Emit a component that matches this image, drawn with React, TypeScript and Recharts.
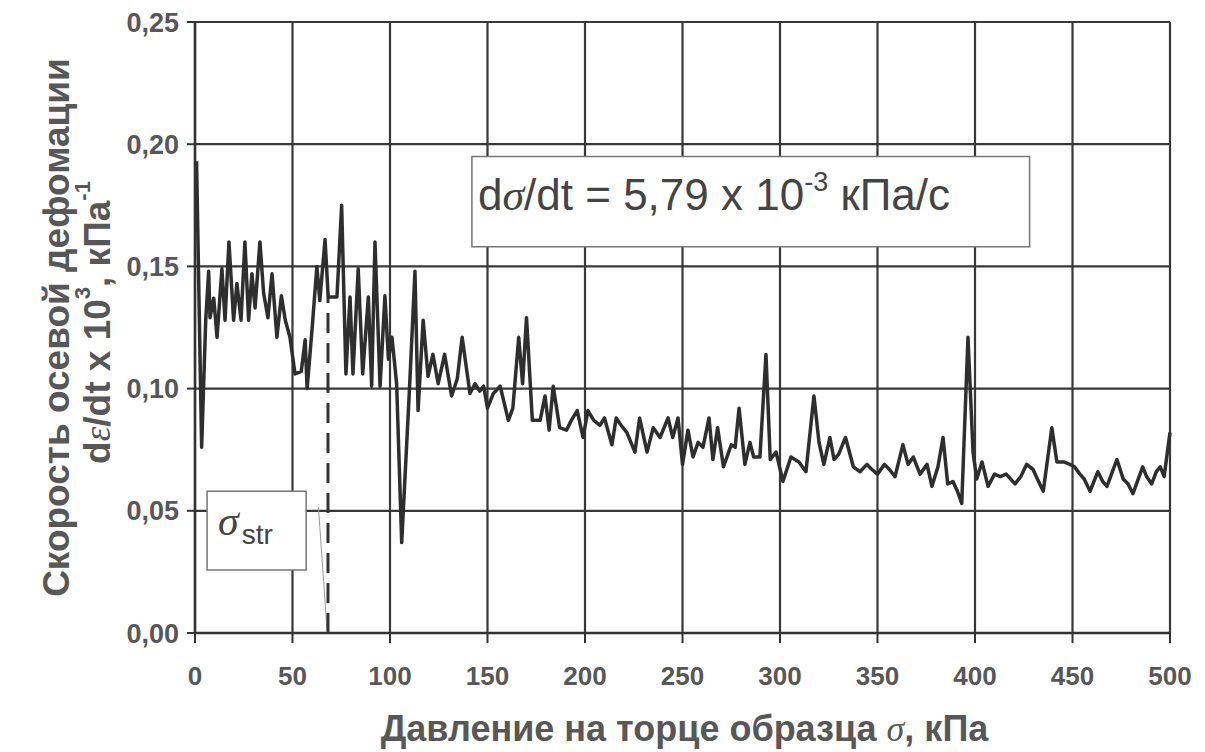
import React from 'react';
import {
  LineChart,
  Line,
  XAxis,
  YAxis,
  CartesianGrid,
  ReferenceLine,
  ReferenceArea,
  Label,
} from 'recharts';

// Pressure on the sample end, kPa
const pressureKPa = [
  0.8, 3.4, 5.5, 7.0, 7.7, 9.6, 11.3, 13.8, 15.4, 17.4,
  19.8, 21.5, 23.6, 25.6, 27.5, 29.2, 30.8, 33.3, 35.2, 37.4,
  39.5, 42.0, 44.3, 46.3, 48.7, 51.3, 54.5, 56.5, 57.5, 60.0,
  62.5, 64.0, 66.7, 68.3, 72.8, 75.2, 77.4, 79.5, 81.0, 83.7,
  86.0, 88.9, 90.6, 92.3, 94.9, 97.4, 99.2, 101.0, 103.4, 106.0,
  110.0, 112.8, 114.4, 117.0, 119.5, 122.0, 124.7, 128.0, 131.6, 134.5,
  137.0, 141.0, 143.6, 146.0, 148.0, 150.0, 153.0, 156.5, 160.7, 163.0,
  166.0, 168.0, 170.0, 173.0, 177.0, 179.5, 181.6, 183.7, 187.0, 190.5,
  193.0, 196.0, 199.0, 201.5, 204.5, 207.7, 210.0, 213.8, 216.0, 218.5,
  221.5, 225.6, 228.0, 231.8, 235.0, 238.5, 242.6, 245.0, 247.7, 250.0,
  252.8, 255.4, 258.0, 260.5, 263.6, 265.6, 268.0, 271.0, 275.0, 277.0,
  279.0, 282.0, 284.6, 286.5, 289.7, 292.8, 295.0, 298.0, 301.5, 305.6,
  309.7, 313.3, 317.4, 320.0, 322.5, 325.6, 327.7, 330.0, 333.6, 337.6,
  341.0, 344.6, 347.0, 350.0, 353.6, 356.0, 359.0, 363.0, 365.7, 368.4,
  371.8, 375.4, 377.9, 381.0, 383.6, 386.0, 388.7, 391.0, 393.2, 396.4,
  399.0, 400.9, 403.6, 406.7, 410.0, 413.0, 416.0, 420.5, 423.5, 426.5,
  429.7, 432.0, 435.0, 439.4, 442.0, 445.5, 448.7, 451.0, 453.8, 456.0,
  459.0, 463.0, 465.5, 467.7, 470.0, 472.8, 476.0, 478.5, 481.0, 486.0,
  488.0, 490.6, 493.0, 495.0, 497.0, 500.0,
];

// Axial strain rate dε/dt x 10^3, 1/kPa
const strainRate = [
  0.193, 0.076, 0.128, 0.148, 0.129, 0.137, 0.121, 0.149, 0.128, 0.160,
  0.128, 0.143, 0.128, 0.160, 0.128, 0.147, 0.133, 0.160, 0.139, 0.129,
  0.147, 0.121, 0.138, 0.128, 0.121, 0.106, 0.107, 0.120, 0.100, 0.124,
  0.150, 0.136, 0.161, 0.1375, 0.1375, 0.175, 0.106, 0.1375, 0.106, 0.149,
  0.106, 0.1375, 0.101, 0.160, 0.101, 0.138, 0.112, 0.121, 0.102, 0.037,
  0.100, 0.148, 0.091, 0.128, 0.105, 0.114, 0.102, 0.114, 0.097, 0.104,
  0.121, 0.098, 0.102, 0.099, 0.101, 0.092, 0.098, 0.101, 0.087, 0.092,
  0.121, 0.102, 0.129, 0.087, 0.087, 0.097, 0.083, 0.101, 0.084, 0.083,
  0.087, 0.091, 0.080, 0.091, 0.087, 0.085, 0.088, 0.077, 0.088, 0.085,
  0.082, 0.074, 0.088, 0.074, 0.084, 0.080, 0.088, 0.080, 0.088, 0.069,
  0.083, 0.072, 0.078, 0.076, 0.088, 0.071, 0.084, 0.068, 0.077, 0.076,
  0.092, 0.069, 0.078, 0.072, 0.072, 0.114, 0.071, 0.074, 0.062, 0.072,
  0.070, 0.066, 0.097, 0.078, 0.069, 0.080, 0.071, 0.073, 0.080, 0.068,
  0.066, 0.069, 0.067, 0.065, 0.069, 0.067, 0.064, 0.077, 0.069, 0.072,
  0.065, 0.069, 0.060, 0.068, 0.080, 0.061, 0.062, 0.058, 0.053, 0.121,
  0.074, 0.063, 0.070, 0.060, 0.065, 0.064, 0.065, 0.061, 0.064, 0.069,
  0.067, 0.063, 0.058, 0.084, 0.070, 0.070, 0.069, 0.068, 0.065, 0.063,
  0.058, 0.066, 0.062, 0.060, 0.065, 0.071, 0.063, 0.061, 0.057, 0.068,
  0.064, 0.061, 0.066, 0.068, 0.064, 0.082,
];

const xTicks = [0, 50, 100, 150, 200, 250, 300, 350, 400, 450, 500];
const yTicks = [0, 0.05, 0.1, 0.15, 0.2, 0.25];

// σ_str marker (kPa) and the rate level where the dashed line ends
const sigmaStr = 68.2;
const sigmaStrRate = 0.1375;

const data = pressureKPa.map((p, i) => ({ p, r: strainRate[i] }));

const SANS = 'Liberation Sans, Arial, sans-serif';
const SERIF = 'Liberation Serif, Times New Roman, serif';
const TEXT = '#575757';
const INK = '#333333';

const fmtY = (v: number) => v.toFixed(2).replace('.', ',');

const YAxisTitle = (props: any) => {
  const vb = props.viewBox || { x: 0, y: 22, width: 195, height: 611 };
  const cy = vb.y + vb.height / 2;
  const x1 = 56;
  const x2 = 97;
  const cy2 = cy - 5;
  return (
    <g fill={TEXT} fontFamily={SANS} fontWeight="bold" fontSize={37}>
      <text
        x={x1}
        y={cy}
        transform={`rotate(-90, ${x1}, ${cy})`}
        textAnchor="middle"
        dominantBaseline="central"
      >
        Скорость осевой дефомации
      </text>
      <text
        x={x2}
        y={cy2}
        transform={`rotate(-90, ${x2}, ${cy2})`}
        textAnchor="middle"
        dominantBaseline="central"
      >
        d
        <tspan fontFamily={SERIF} fontStyle="italic" fontWeight="normal">
          ε
        </tspan>
        /dt x 10
        <tspan fontSize={22} dy={-15}>
          3
        </tspan>
        <tspan dy={15}>, кПа</tspan>
        <tspan fontSize={22} dy={-15}>
          -1
        </tspan>
      </text>
    </g>
  );
};

const XAxisTitle = (props: any) => {
  const vb = props.viewBox || { x: 195, y: 633, width: 975, height: 119 };
  const cx = vb.x + vb.width / 2;
  return (
    <text
      x={cx + 2}
      y={741}
      textAnchor="middle"
      fill={TEXT}
      fontFamily={SANS}
      fontWeight="bold"
      fontSize={36}
    >
      Давление на торце образца{' '}
      <tspan fontFamily={SERIF} fontStyle="italic" fontWeight="normal">
        σ
      </tspan>
      , кПа
    </text>
  );
};

const FormulaLabel = (props: any) => {
  const vb = props.viewBox;
  if (!vb) return null;
  const x = vb.x + 6;
  const y = vb.y + 54;
  return (
    <text x={x} y={y} fill="#444" fontFamily={SANS} fontSize={44}>
      d
      <tspan fontFamily={SERIF} fontStyle="italic">
        σ
      </tspan>
      /dt = 5,79 x 10
      <tspan fontSize={27} dy={-19}>
        -3
      </tspan>
      <tspan dy={19}> кПа/с</tspan>
    </text>
  );
};

const SigmaStrLabel = (props: any) => {
  const vb = props.viewBox;
  if (!vb) return null;
  const x = vb.x + 11;
  const y = vb.y + 44;
  return (
    <text x={x} y={y} fill="#444">
      <tspan fontFamily={SERIF} fontStyle="italic" fontSize={42}>
        σ
      </tspan>
      <tspan fontFamily={SANS} fontSize={28} dy={9} dx={3}>
        str
      </tspan>
    </text>
  );
};

export default function App() {
  return (
    <div style={{ position: 'absolute', left: 0, top: 0, background: '#fff' }}>
      <LineChart
        width={1205}
        height={752}
        data={data}
        margin={{ top: 22, right: 35, bottom: 0, left: 0 }}
      >
        <CartesianGrid stroke="#383838" strokeWidth={2.2} />
        <XAxis
          dataKey="p"
          type="number"
          domain={[0, 500]}
          ticks={xTicks}
          interval={0}
          height={119}
          axisLine={{ stroke: INK, strokeWidth: 2.5 }}
          tickLine={{ stroke: INK, strokeWidth: 2 }}
          tickSize={10}
          tickMargin={24}
          tick={{ fill: TEXT, fontSize: 26, fontWeight: 'bold', fontFamily: SANS }}
        >
          <Label content={XAxisTitle} />
        </XAxis>
        <YAxis
          type="number"
          domain={[0, 0.25]}
          ticks={yTicks}
          interval={0}
          width={195}
          tickFormatter={fmtY}
          axisLine={{ stroke: INK, strokeWidth: 2.5 }}
          tickLine={{ stroke: INK, strokeWidth: 2 }}
          tickSize={8}
          tickMargin={8}
          tick={{ fill: TEXT, fontSize: 27, fontWeight: 'bold', fontFamily: SANS }}
        >
          <Label content={YAxisTitle} />
        </YAxis>
        <ReferenceArea
          x1={142}
          x2={428}
          y1={0.158}
          y2={0.195}
          fill="#ffffff"
          fillOpacity={1}
          stroke="#777"
          strokeWidth={1.5}
          label={<FormulaLabel />}
        />
        <ReferenceArea
          x1={6.2}
          x2={57}
          y1={0.0258}
          y2={0.058}
          fill="#ffffff"
          fillOpacity={1}
          stroke="#777"
          strokeWidth={1.5}
          label={<SigmaStrLabel />}
        />
        <ReferenceLine
          segment={[
            { x: 63.3, y: 0.0516 },
            { x: 67.7, y: 0.0012 },
          ]}
          stroke="#999"
          strokeWidth={1}
        />
        <ReferenceLine
          segment={[
            { x: sigmaStr, y: 0 },
            { x: sigmaStr, y: sigmaStrRate },
          ]}
          stroke={INK}
          strokeWidth={3}
          strokeDasharray="20 10"
        />
        <Line
          type="linear"
          dataKey="r"
          stroke="#2e2e2e"
          strokeWidth={3.5}
          strokeLinejoin="round"
          dot={false}
          isAnimationActive={false}
        />
      </LineChart>
    </div>
  );
}
